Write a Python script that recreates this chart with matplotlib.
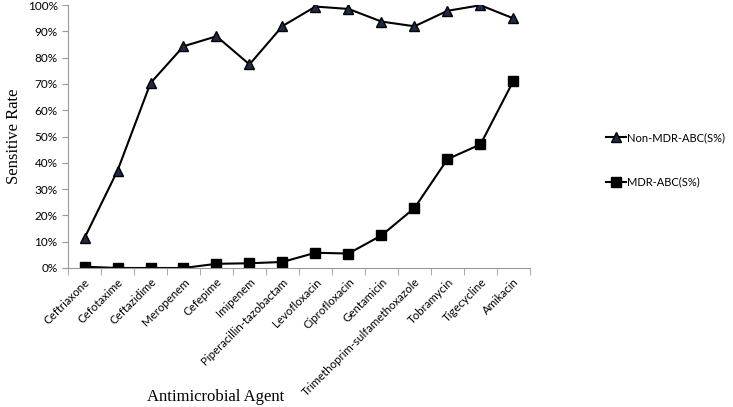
import matplotlib
matplotlib.use("Agg")
import matplotlib.pyplot as plt
from matplotlib.ticker import PercentFormatter, FixedLocator
import numpy as np

agents = ["Ceftriaxone", "Cefotaxime", "Ceftazidime", "Meropenem", "Cefepime",
          "Imipenem", "Piperacillin-tazobactam", "Levofloxacin", "Ciprofloxacin",
          "Gentamicin", "Trimethoprim-sulfamethoxazole", "Tobramycin",
          "Tigecycline", "Amikacin"]
non_mdr = [11.4, 37.0, 70.3, 84.3, 88.1, 77.4, 92.0, 99.4, 98.5, 93.7, 91.9, 97.8, 99.9, 94.9]
mdr = [0.5, 0.0, 0.0, 0.0, 1.6, 1.8, 2.3, 5.8, 5.5, 12.4, 22.8, 41.4, 47.0, 71.2]

fig = plt.figure(figsize=(7.33, 4.07), dpi=100)
ax = fig.add_axes([68/733, 1 - 268/407, (530 - 68)/733, (268 - 5)/407])

x = np.arange(len(agents))
l1, = ax.plot(x, non_mdr, color="black", lw=1.5, marker="^", ms=7,
              mfc="#1f2a44", mec="black", label="Non-MDR-ABC(S%)")
l2, = ax.plot(x, mdr, color="black", lw=1.5, marker="s", ms=7,
              mfc="black", mec="black", label="MDR-ABC(S%)")

ax.set_xlim(-0.5, len(agents) - 0.5)
ax.set_ylim(0, 100)
ax.set_yticks(np.arange(0, 101, 10))
ax.yaxis.set_major_formatter(PercentFormatter(decimals=0))
ax.set_xticks(x)
ax.set_xticklabels(agents, rotation=45, ha="right", rotation_mode="anchor",
                   fontsize=8.3, family="Lato")
ax.tick_params(axis="x", length=0, pad=6)
ax.xaxis.set_minor_locator(FixedLocator(np.arange(-0.5, len(agents), 1)))
ax.tick_params(axis="x", which="minor", length=5, color="#999999")
ax.tick_params(axis="y", length=4, color="#999999", labelsize=8.5)
for t in ax.get_yticklabels():
    t.set_family("Lato")

for s in ["top", "right"]:
    ax.spines[s].set_visible(False)
for s in ["left", "bottom"]:
    ax.spines[s].set_color("#999999")

ax.set_ylabel("Sensitive Rate", family="Liberation Serif", fontsize=12)
fig.text(216/733, 1 - 397/407, "Antimicrobial Agent", family="Liberation Serif",
         fontsize=12, ha="center", va="center")

fig.legend(handles=[l1, l2], loc="center left", bbox_to_anchor=(596/733, 1 - 160/407),
           frameon=False, labelspacing=3.0, handlelength=1.8, handletextpad=0.1,
           prop={"family": "Lato", "size": 8})

fig.savefig("out.png", dpi=100)
